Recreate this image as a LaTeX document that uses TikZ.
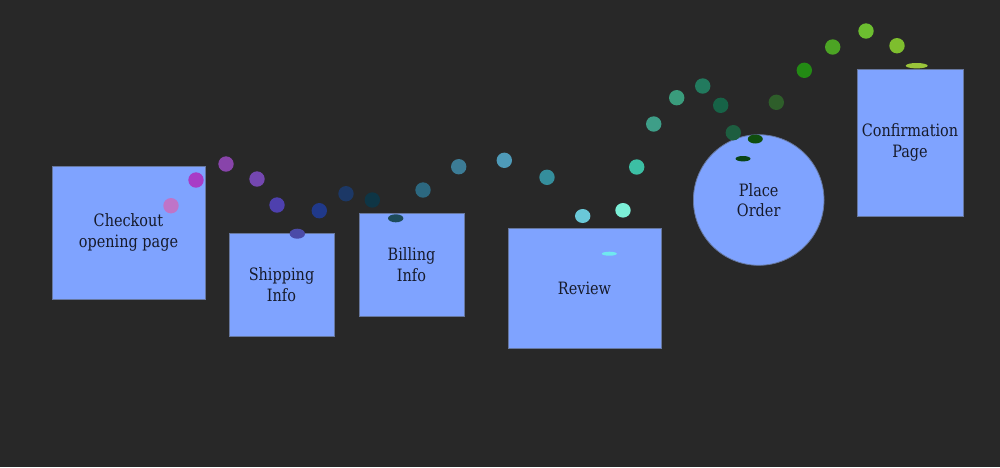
\documentclass[tikz,border=0pt]{standalone}
\usepackage{fontspec}
\setmainfont{DejaVu Serif}[FakeStretch=0.85]
\usepackage{xcolor}
\definecolor{fondo}{HTML}{282828}
\definecolor{caja}{HTML}{7FA3FF}
\definecolor{borde}{HTML}{66779F}
\definecolor{texto}{HTML}{161A2A}

\begin{document}
\begin{tikzpicture}[x=1pt,y=-1pt,
    pagina/.style={rectangle,fill=caja,draw=borde,line width=0.8pt,
      align=center,text=texto,inner sep=0pt,
      font=\fontsize{17}{20.5}\selectfont},
    paso/.style={pagina,circle}]
    \fill[fondo] (0,0) rectangle (1000,467);
    \useasboundingbox (0,0) rectangle (1000,467);

    \node[pagina,minimum width=153pt,minimum height=133pt] (checkout) at (128.5,232.5)
      {Checkout\\opening page};
    \node[pagina,minimum width=105pt,minimum height=103pt] (envio) at (281.5,284.5)
      {Shipping\\Info};
    \node[pagina,minimum width=105pt,minimum height=103pt] (cobro) at (411.5,264.5)
      {Billing\\Info};
    \node[pagina,minimum width=153pt,minimum height=120pt] (revision) at (584.5,288)
      {Review};
    \node[paso,minimum size=130.6pt] (pedido) at (758.7,200)
      {Place\\Order};
    \node[pagina,minimum width=106pt,minimum height=147pt] (confirmacion) at (910,142.6)
      {Confirmation\\Page};

    \foreach \x/\y/\rx/\ry/\c in {171/205.7/7.7/7.7/BF74C8, 196/180/7.7/7.7/A83CC6,
        226/164/7.7/7.7/8844AA, 257/179/7.7/7.7/7447B0, 277/205/7.7/7.7/4E40AE,
        297.3/233.7/7.7/5/4B4BA8, 319.3/210.7/7.7/7.7/20398A, 346/193.7/7.7/7.7/1C3866,
        372.3/200/7.7/7.7/0E3545, 395.7/218.3/7.7/4/1D4B5A, 423/190/7.7/7.7/2C6880,
        458.7/166.7/7.7/7.7/3C7C96, 504.3/160.3/7.7/7.7/4E9AB8, 547/177.3/7.7/7.7/358E9C,
        582.7/216/7.7/7/6AC8D8, 609.3/253.7/7.5/2/70E8F0, 623/210.3/7.7/7.3/7CF0D8,
        636.7/167/7.7/7.7/3CBFA4, 653.7/124/7.7/7.7/3E9E88, 676.7/97.7/7.7/7.7/3A9C7C,
        702.7/86/7.7/7.7/227A5E, 720.7/105.3/7.7/7.7/176347, 733.3/132.7/7.7/7.7/1D5E40,
        743/158.7/7.5/2.7/0A4417, 755.3/139/7.5/4.5/0F4E0E, 776.3/102.3/7.7/7.7/2E5E2A,
        804.3/70.3/7.7/7.7/238A14, 832.7/47/7.7/7.7/4CA424, 866/31/7.7/7.7/6CBE30,
        897/45.7/7.7/7.7/7EBE2E, 916.7/65.7/11/2.7/9AC43A} {
      \definecolor{punto}{HTML}{\c}
      \fill[punto] (\x,\y) ellipse [x radius=\rx, y radius=\ry];
    }
\end{tikzpicture}
\end{document}
